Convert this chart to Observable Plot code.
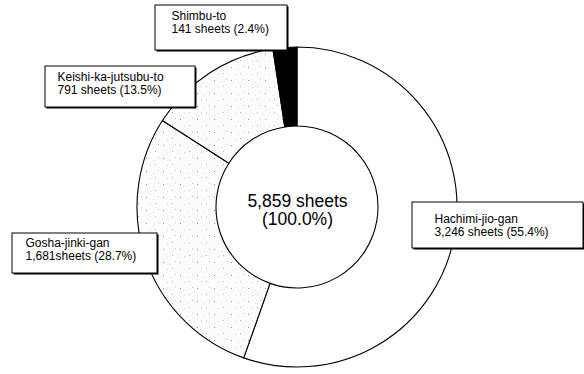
<!DOCTYPE html>
<html>
<head>
<meta charset="utf-8">
<script src="https://cdn.jsdelivr.net/npm/d3@7"></script>
<script src="https://cdn.jsdelivr.net/npm/@observablehq/plot@0.6"></script>
<style>
  html, body { margin: 0; padding: 0; background: #fff; }
  #chart svg { display: block; }
</style>
</head>
<body>
<div id="chart"></div>
<script>
// Prescriptions by formula (number of sheets), clockwise from 12 o'clock
const categories = ["Hachimi-jio-gan", "Gosha-jinki-gan", "Keishi-ka-jutsubu-to", "Shimbu-to"];
const sheets = [3246, 1681, 791, 141];
const shares = [55.4, 28.7, 13.5, 2.4];
const unitText = [" sheets", "sheets", " sheets", " sheets"];
const sliceFills = ["white", "stipple", "stipple", "black"];

// Callout boxes (page coordinates)
const callouts = [
  {x1: 412, y1: 202, x2: 583, y2: 248, tx: 434, ty: 213},
  {x1: 12, y1: 233, x2: 157, y2: 273, tx: 25, ty: 237},
  {x1: 45, y1: 66, x2: 195, y2: 107, tx: 57, ty: 71},
  {x1: 155, y1: 5, x2: 287, y2: 50, tx: 171, ty: 10}
];

const W = 584, H = 374;
const center = {x: 297, y: 207};
const outerR = 160, innerR = 81;

const fmt = d3.format(",");
const total = d3.sum(sheets);

const rows = categories.map((name, i) => ({
  name,
  sheets: sheets[i],
  share: shares[i],
  fill: sliceFills[i],
  label: `${name}\n${fmt(sheets[i])}${unitText[i]} (${shares[i].toFixed(1)}%)`,
  ...callouts[i]
}));

// Donut drawn with d3.pie / d3.arc, positioned through Plot's x/y scales
function donut(index, scales) {
  const cx = scales.x(center.x), cy = scales.y(center.y);
  const g = d3.create("svg:g");
  const defs = g.append("defs");
  const pat = defs.append("pattern")
    .attr("id", "stipple")
    .attr("patternUnits", "userSpaceOnUse")
    .attr("width", 17).attr("height", 13);
  pat.append("rect").attr("width", 17).attr("height", 13).attr("fill", "#fcfcfc");
  [[2, 3, "#8f8f8f"], [11, 9, "#b0b0b0"], [14, 2, "#d0d0d0"], [6, 10, "#dadada"], [9, 5, "#e2e2e2"]].forEach(([x, y, c]) =>
    pat.append("rect").attr("x", x).attr("y", y).attr("width", 1).attr("height", 1).attr("fill", c));

  const pie = d3.pie().sort(null).value(d => d.sheets);
  const arc = d3.arc().innerRadius(innerR).outerRadius(outerR);
  g.append("g")
    .attr("transform", `translate(${cx},${cy})`)
    .selectAll("path")
    .data(pie(rows))
    .join("path")
    .attr("d", arc)
    .attr("fill", d => d.data.fill === "stipple" ? "url(#stipple)" : d.data.fill)
    .attr("stroke", "black")
    .attr("stroke-width", 1.1)
    .attr("stroke-linejoin", "round");
  return g.node();
}

const chart = Plot.plot({
  width: W,
  height: H,
  margin: 0,
  x: {domain: [0, W], range: [0, W], axis: null},
  y: {domain: [0, H], range: [0, H], axis: null},
  style: {background: "white", fontFamily: "'Liberation Sans', Arial, sans-serif"},
  marks: [
    donut,
    // shadow + box for each callout
    Plot.rect(rows, {x1: d => d.x1 + 1.5, y1: d => d.y1 + 1.5, x2: d => d.x2 + 1.5, y2: d => d.y2 + 1.5, fill: "black"}),
    Plot.rect(rows, {x1: "x1", y1: "y1", x2: "x2", y2: "y2", fill: "white", stroke: "black", strokeWidth: 1}),
    Plot.text(rows, {
      x: "tx", y: "ty", text: "label",
      textAnchor: "start", lineAnchor: "top", lineHeight: 1.1,
      fontSize: 12, fill: "black"
    }),
    Plot.text([`${fmt(total)} sheets\n(${(d3.sum(shares)).toFixed(1)}%)`], {
      x: center.x, y: 210, text: d => d,
      textAnchor: "middle", lineAnchor: "middle", lineHeight: 1.0,
      fontSize: 17.5, fill: "black"
    })
  ]
});

document.getElementById("chart").appendChild(chart);
</script>
</body>
</html>
